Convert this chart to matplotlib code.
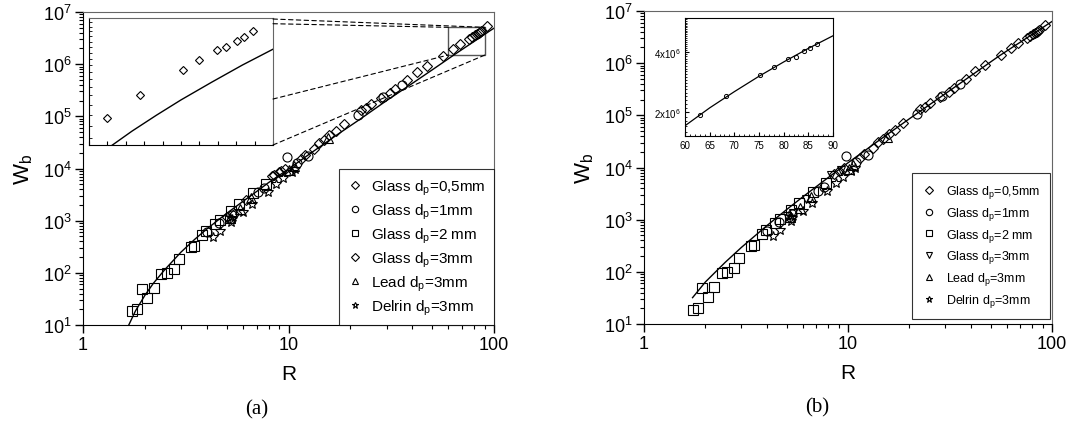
import numpy as np
import matplotlib
matplotlib.use('Agg')
import matplotlib.pyplot as plt
from matplotlib.patches import Rectangle, ConnectionPatch
from matplotlib.ticker import (LogLocator, FixedLocator, NullFormatter,
                               FuncFormatter, MultipleLocator)

plt.rcParams['font.family'] = ['Liberation Sans', 'DejaVu Sans']
plt.rcParams['mathtext.fontset'] = 'custom'
plt.rcParams['mathtext.rm'] = 'Liberation Sans'
plt.rcParams['mathtext.it'] = 'Liberation Sans:italic'
plt.rcParams['mathtext.default'] = 'regular'

# measured breakage work Wb against R
glass05_R = [8.5, 9.0, 9.6, 11.5, 12.0, 13.3, 14.1, 14.9, 15.8, 17.0, 18.7, 22.6, 23.9,
             25.3, 28.3, 31.1, 32.9, 37.9, 42.0, 47.1, 56.4, 63.0, 68.3, 75.3, 78.0,
             80.8, 82.4, 84.2, 85.3, 86.8, 92.7]
glass05_W = [7.5e3, 8.5e3, 1.0e4, 1.55e4, 1.8e4, 2.4e4, 3.1e4, 3.5e4, 4.3e4, 5.3e4, 7.0e4,
             1.3e5, 1.45e5, 1.7e5, 2.2e5, 2.8e5, 3.4e5, 4.9e5, 7.0e5, 9.1e5, 1.44e6,
             1.94e6, 2.40e6, 3.06e6, 3.35e6, 3.68e6, 3.79e6, 4.02e6, 4.19e6, 4.40e6, 5.3e6]

glass1_R = [4.0, 4.6, 5.3, 7.1, 7.6, 9.8, 11.0, 12.5, 21.7, 28.8, 35.5]
glass1_W = [600, 900, 1300, 3600, 4300, 16700, 1.25e4, 1.7e4, 1.05e5, 2.3e5, 3.9e5]

glass2_R = [1.73, 1.83, 1.93, 2.05, 2.21, 2.40, 2.56, 2.77, 2.93, 3.35, 3.45, 3.79,
            3.98, 4.38, 4.63, 5.23, 5.75, 6.71, 7.76]
glass2_W = [18.9, 20.3, 48, 33.5, 51, 93.5, 100, 117, 184, 316, 331, 530, 631, 850,
            1020, 1550, 2080, 3330, 5000]

glass3_R = [5.0, 5.4, 6.2, 8.3, 9.2]
glass3_W = [1200, 1350, 2500, 7200, 9000]

lead_R = [5.2, 5.8, 6.6, 10.1, 10.6, 15.6]
lead_W = [1150, 1700, 2700, 9500, 1.1e4, 3.8e4]

delrin_R = [4.30, 4.63, 5.23, 5.30, 5.99, 6.63, 7.92, 8.73, 9.42, 10.4, 10.8]
delrin_W = [478, 630, 955, 1100, 1480, 2080, 3580, 4950, 6460, 8650, 1.0e4]

# model curves
fit_a_R = [1.67, 1.8, 2.0, 2.2, 2.5, 3.0, 3.5, 4.0, 5.0, 6.0, 7.0, 8.0, 10, 13, 17, 22,
           30, 40, 50, 60, 63, 67, 71, 75, 80, 85, 90, 95, 100]
fit_a_W = [10, 18.6, 37, 63, 115, 250, 440, 690, 1380, 2340, 3630, 5370, 9770, 2.04e4,
           4.27e4, 8.5e4, 2.0e5, 4.27e5, 7.76e5, 1.27e6, 1.45e6, 1.71e6, 1.99e6,
           2.30e6, 2.72e6, 3.20e6, 3.72e6, 4.30e6, 4.9e6]

fit_b_R = [1.73, 2.0, 2.5, 3.0, 4.0, 5.0, 6.0, 8.0, 10, 14, 20, 30, 45, 55, 60, 65, 70,
           75, 80, 85, 90, 100]
fit_b_W = [32, 64, 152, 293, 767, 1560, 2730, 6420, 1.23e4, 3.19e4, 8.6e4, 2.6e5,
           7.9e5, 1.37e6, 1.71e6, 2.10e6, 2.53e6, 3.02e6, 3.56e6, 4.16e6, 4.81e6, 6.3e6]

W, H = 1082, 427
fig = plt.figure(figsize=(W / 100, H / 100), dpi=100)


def px(x0, y0, x1, y1):
    return [x0 / W, 1 - y1 / H, (x1 - x0) / W, (y1 - y0) / H]


def main_axes(rect):
    ax = fig.add_axes(rect)
    ax.set_xscale('log')
    ax.set_yscale('log')
    ax.set_xlim(1, 100)
    ax.set_ylim(10, 1e7)
    ax.xaxis.set_major_formatter(FuncFormatter(lambda v, p: f'{v:g}'))
    ax.xaxis.set_minor_formatter(NullFormatter())
    ax.yaxis.set_major_locator(LogLocator(base=10, numticks=10))
    ax.yaxis.set_minor_locator(LogLocator(base=10, subs=np.arange(2, 10), numticks=20))
    ax.yaxis.set_minor_formatter(NullFormatter())
    ax.tick_params(which='major', direction='out', length=6, width=1, labelsize=13, pad=2)
    ax.tick_params(which='minor', direction='out', length=3, width=0.8)
    for s in ['top', 'right']:
        ax.spines[s].set_color('#666666')
    ax.set_xlabel('R', fontsize=15, labelpad=8)
    ax.set_ylabel('W$_b$', fontsize=16, labelpad=6)
    return ax


def scatter_sets(ax, glass3_marker, ms):
    kw = dict(ls='none', mfc='none', mec='black', mew=0.8)
    ax.plot(glass05_R, glass05_W, marker='D', ms=ms * 0.85, label='Glass d$_p$=0,5mm', **kw)
    ax.plot(glass1_R, glass1_W, marker='o', ms=ms, label='Glass d$_p$=1mm', **kw)
    ax.plot(glass2_R, glass2_W, marker='s', ms=ms, label='Glass d$_p$=2 mm', **kw)
    ax.plot(glass3_R, glass3_W, marker=glass3_marker, ms=ms * 0.85,
            label='Glass d$_p$=3mm', **kw)
    ax.plot(lead_R, lead_W, marker='^', ms=ms, label='Lead d$_p$=3mm', **kw)
    ax.plot(delrin_R, delrin_W, marker='*', ms=ms * 1.1, label='Delrin d$_p$=3mm', **kw)


# ---- panel (a) ----
ax1 = main_axes(px(83, 13, 494, 326))
ax1.plot(fit_a_R, fit_a_W, color='black', lw=1)
scatter_sets(ax1, 'D', 6.5)
leg1 = ax1.legend(loc='lower right', borderaxespad=0, fontsize=11, frameon=True,
                  fancybox=False, edgecolor='black', markerscale=0.7, handlelength=1.0,
                  handletextpad=0.55, labelspacing=0.3, borderpad=0.55)
leg1.get_frame().set_linewidth(0.8)

ax1.add_patch(Rectangle((60, 1.5e6), 30.4, 3.58e6, fill=False, ec='#555555', lw=1))

ins1 = fig.add_axes(px(89, 19, 273, 146))
ins1.set_yscale('log')
ins1.set_xlim(60, 90)
ins1.set_ylim(1.5e6, 5e6)
ins1.plot(fit_a_R, fit_a_W, color='black', lw=1)
ins1.plot(glass05_R, glass05_W, ls='none', marker='D', ms=4, mfc='none', mec='black', mew=0.8)
ins1.xaxis.set_major_locator(MultipleLocator(3))
ins1.yaxis.set_major_locator(FixedLocator([]))
ins1.yaxis.set_minor_locator(FixedLocator(np.arange(1.6e6, 5e6, 2e5)))
ins1.tick_params(which='both', direction='in', labelleft=False, labelbottom=False)
ins1.tick_params(which='major', length=3)
ins1.tick_params(which='minor', length=2)
for s in ['top', 'right']:
    ins1.spines[s].set_color('#666666')

for ya, xb, yb in [(0.992, 90.4, 5.08e6), (0.955, 60, 5.08e6),
                   (0.362, 60, 1.5e6), (0.0, 90.4, 1.5e6)]:
    con = ConnectionPatch(xyA=(1, ya), coordsA=ins1.transAxes, xyB=(xb, yb),
                          coordsB=ax1.transData, ls=(0, (4, 3)), lw=0.8, color='black')
    fig.add_artist(con)

# ---- panel (b) ----
ax2 = main_axes(px(644, 12, 1052, 325))
ax2.plot(fit_b_R, fit_b_W, color='black', lw=1)
scatter_sets(ax2, 'v', 6.5)
leg2 = ax2.legend(loc='lower right', bbox_to_anchor=(0.995, 0.016), borderaxespad=0,
                  fontsize=9, frameon=True, fancybox=False, edgecolor='black',
                  markerscale=0.7, handlelength=1.2, handletextpad=0.7,
                  labelspacing=0.38, borderpad=0.8)
leg2.get_frame().set_linewidth(0.8)

ins2 = fig.add_axes(px(685, 19, 833, 137))
ins2.set_yscale('log')
ins2.set_xlim(60, 90)
ins2.set_ylim(1.52e6, 5.9e6)
ins2.plot(fit_b_R, fit_b_W, color='black', lw=0.9)
ins2.plot(glass05_R, glass05_W, ls='none', marker='o', ms=3, mfc='none', mec='black', mew=0.7)
ins2.xaxis.set_major_locator(MultipleLocator(5))
ins2.xaxis.set_minor_locator(MultipleLocator(1))
ins2.yaxis.set_major_locator(FixedLocator([2e6, 4e6]))
ins2.yaxis.set_major_formatter(FuncFormatter(lambda v, p: f'{v / 1e6:g}x10$^6$'))
ins2.yaxis.set_minor_locator(FixedLocator(np.arange(1.6e6, 5.9e6, 1e5)))
ins2.yaxis.set_minor_formatter(NullFormatter())
ins2.tick_params(which='both', direction='in', labelsize=7, pad=3)
ins2.tick_params(which='major', length=3)
ins2.tick_params(which='minor', length=1.5)

fig.text(257 / W, 1 - 410 / H, '(a)', family='Liberation Serif', fontsize=15,
         ha='center', va='center')
fig.text(817 / W, 1 - 408 / H, '(b)', family='Liberation Serif', fontsize=15,
         ha='center', va='center')

fig.savefig('out.png', dpi=100)
